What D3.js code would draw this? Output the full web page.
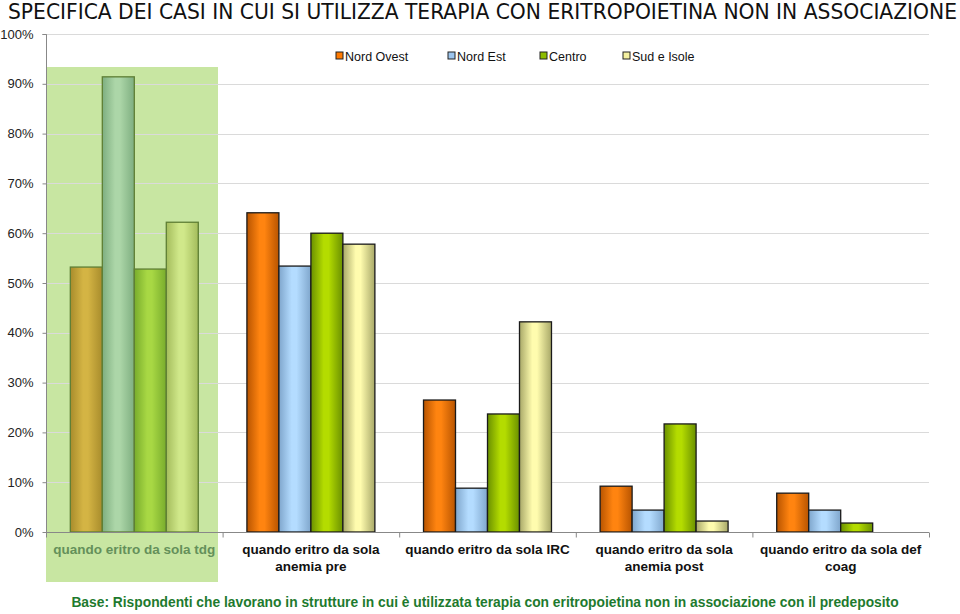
<!DOCTYPE html>
<html><head><meta charset="utf-8">
<script src="https://cdn.jsdelivr.net/npm/d3@7"></script>
<style>body{margin:0;background:#fff}svg{display:block}</style>
</head><body>
<script>
const categories = [
  ["quando eritro da sola tdg"],
  ["quando eritro da sola", "anemia pre"],
  ["quando eritro da sola IRC"],
  ["quando eritro da sola", "anemia post"],
  ["quando eritro da sola def", "coag"]
];
const seriesNames = ["Nord Ovest", "Nord Est", "Centro", "Sud e Isole"];
const nordOvest = [0.532, 0.641, 0.265, 0.092, 0.078];
const nordEst   = [0.914, 0.534, 0.088, 0.044, 0.044];
const centro    = [0.528, 0.600, 0.237, 0.217, 0.018];
const sudIsole  = [0.622, 0.578, 0.422, 0.022, null];
const yTicks = [0,0.1,0.2,0.3,0.4,0.5,0.6,0.7,0.8,0.9,1.0];
const titleText = "SPECIFICA DEI CASI IN CUI SI UTILIZZA TERAPIA CON ERITROPOIETINA NON IN ASSOCIAZIONE";
const footText = "Base: Rispondenti che lavorano in strutture in cui è utilizzata terapia con eritropoietina non in associazione con il predeposito";
const highlightIndex = 0;

const values = [nordOvest, nordEst, centro, sudIsole];
// style palettes [edge, center]
const pal = [["#b85400","#ff8410"],["#7fa6cc","#b4dcff"],["#6a9000","#b4dc00"],["#a8a868","#fffcae"]];
const palHi = [["#a88c2c","#d4b444"],["#7eae80","#acd6a8"],["#78ac2c","#a8d844"],["#a4bc5c","#d0e88a"]];
const legendFill = ["#ff7a00","#9cc4ec","#8cbc00","#f4f0a0"];
const FONT = "'Liberation Sans', Arial, sans-serif";

const W=960,H=614;
const svg=d3.select("body").append("svg").attr("width",W).attr("height",H);
const defs=svg.append("defs");
function grad(id,c){
  const g=defs.append("linearGradient").attr("id",id).attr("x1","0").attr("x2","1").attr("y1","0").attr("y2","0");
  g.append("stop").attr("offset","0").attr("stop-color",c[0]);
  g.append("stop").attr("offset","0.4").attr("stop-color",c[1]);
  g.append("stop").attr("offset","0.55").attr("stop-color",c[1]);
  g.append("stop").attr("offset","1").attr("stop-color",c[0]);
}
pal.forEach((c,i)=>grad("g"+i,c));
palHi.forEach((c,i)=>grad("h"+i,c));

const x0=d3.scaleBand().domain(d3.range(categories.length)).range([46,929]).padding(0);
const x1=d3.scaleBand().domain(d3.range(seriesNames.length)).range([0,x0.bandwidth()]).paddingInner(0).paddingOuter(0.76);
const y=d3.scaleLinear().domain([0,1]).range([532,34]);

// highlight background
svg.append("rect").attr("x",x0(highlightIndex)).attr("y",67).attr("width",218-46).attr("height",582-67).attr("fill","#c8e6a2");

// gridlines
svg.append("g").selectAll("line").data(yTicks.slice(1)).join("line")
  .attr("x1",46).attr("x2",929).attr("y1",d=>Math.round(y(d))+0.5).attr("y2",d=>Math.round(y(d))+0.5)
  .attr("stroke","#dadada").attr("stroke-width",1);

// y axis
const yAxis=d3.axisLeft(y).tickValues(yTicks).tickFormat(d3.format(".0%")).tickSize(4).tickPadding(9);
const ya=svg.append("g").attr("transform","translate(46.5,0)").call(yAxis);
ya.select(".domain").attr("stroke","#888").attr("d","M-4,34.5H0V532.5");
ya.selectAll(".tick line").attr("stroke","#888");
ya.selectAll("text").attr("font-family",FONT).attr("font-size",13).attr("fill","#222");

// bars
const gg=svg.append("g").selectAll("g").data(d3.range(categories.length)).join("g")
  .attr("transform",i=>`translate(${x0(i)},0)`);
gg.selectAll("rect").data(i=>seriesNames.map((s,k)=>({i,k,v:values[k][i]})).filter(d=>d.v!=null))
  .join("rect")
  .attr("x",d=>x1(d.k)).attr("width",x1.bandwidth())
  .attr("y",d=>y(d.v)).attr("height",d=>y(0)-y(d.v))
  .attr("fill",d=>d.i===highlightIndex?`url(#h${d.k})`:`url(#g${d.k})`)
  .attr("stroke",d=>d.i===highlightIndex?"#5e7e34":"#1a1a1a").attr("stroke-width",1.3);

// x axis
const xa=svg.append("g").attr("transform","translate(0,532.5)");
xa.append("line").attr("x1",46).attr("x2",929).attr("stroke","#888");
xa.selectAll(".tk").data(d3.range(categories.length+1)).join("line").attr("class","tk")
  .attr("x1",i=>i<categories.length?x0(i)+0.5:929.5).attr("x2",i=>i<categories.length?x0(i)+0.5:929.5)
  .attr("y1",0).attr("y2",5).attr("stroke","#888");
const lab=svg.append("g").selectAll("text").data(categories).join("text")
  .attr("x",(d,i)=>x0(i)+x0.bandwidth()/2).attr("y",554)
  .attr("text-anchor","middle").attr("font-family",FONT)
  .attr("font-weight","bold").attr("font-size",13.5)
  .attr("fill",(d,i)=>i===highlightIndex?"#64905a":"#111");
lab.selectAll("tspan").data(d=>d).join("tspan")
  .attr("x",function(){return d3.select(this.parentNode).attr("x");})
  .attr("dy",(d,j)=>j===0?0:17).text(d=>d);

// legend
const legX=[336,448,540,623];
const lg=svg.append("g").selectAll("g").data(seriesNames).join("g").attr("transform",(d,i)=>`translate(${legX[i]},52)`);
lg.append("rect").attr("width",7).attr("height",7).attr("fill",(d,i)=>legendFill[i]).attr("stroke","#222").attr("stroke-width",1);
lg.append("text").attr("x",9).attr("y",9).text(d=>d).attr("font-family",FONT).attr("font-size",12.5).attr("fill","#111");

// title
svg.append("text").attr("x",8).attr("y",19).text(titleText)
  .attr("font-family","'Liberation Sans Narrow', 'DejaVu Sans Condensed', sans-serif").attr("font-size",22)
  .attr("textLength",949).attr("lengthAdjust","spacingAndGlyphs").attr("fill","#111");

// footer
svg.append("text").attr("x",485).attr("y",607).attr("text-anchor","middle").text(footText)
  .attr("font-family",FONT).attr("font-weight","bold").attr("font-size",13.8)
  .attr("fill","#1e7a2e");
</script>
</body></html>
